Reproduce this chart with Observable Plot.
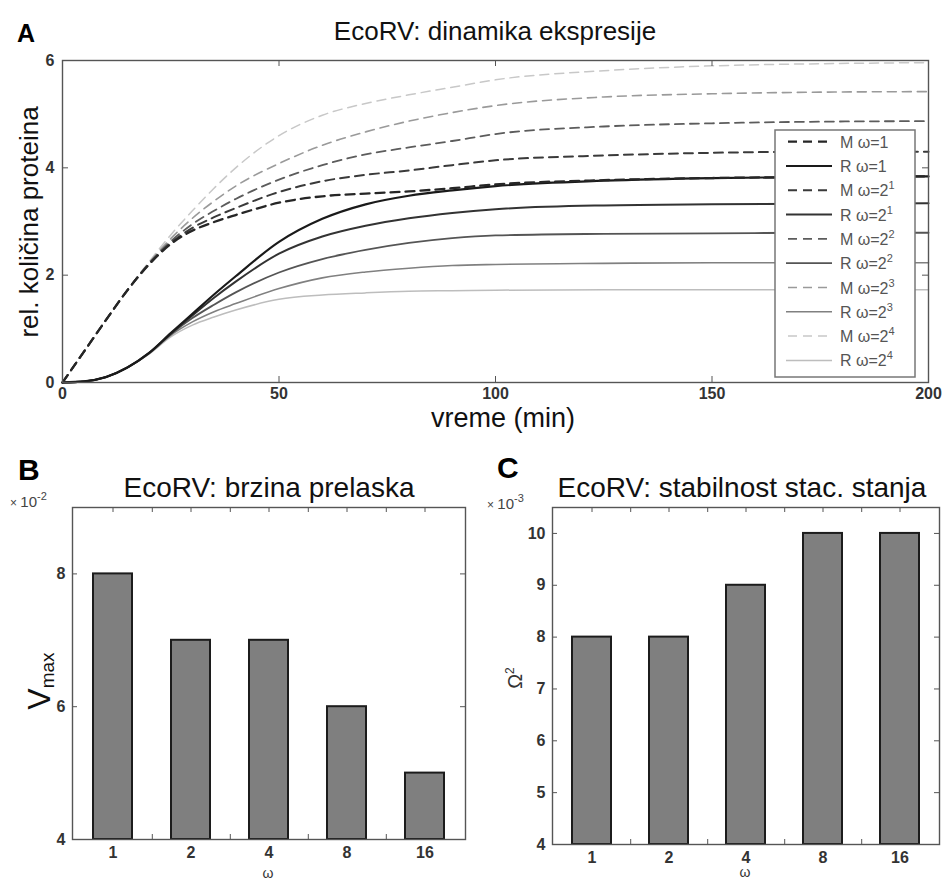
<!DOCTYPE html>
<html><head><meta charset="utf-8">
<script src="https://cdn.jsdelivr.net/npm/d3@7"></script>
<script src="https://cdn.jsdelivr.net/npm/@observablehq/plot@0.6"></script>
<style>
body{margin:0;background:#fff;font-family:"Liberation Sans",Arial,sans-serif;}
#root{position:relative;width:951px;height:881px;overflow:hidden;background:#fff;}
#root > svg{position:absolute;}
</style></head><body><div id="root"></div>
<script>
// ---------- Panel A data ----------
const time = [0,5,10,15,20,25,30,35,40,50,60,70,80,90,100,125,150,175,200];
const mOmega1  = [0,0.58,1.16,1.72,2.20,2.58,2.83,2.99,3.12,3.35,3.47,3.52,3.56,3.62,3.69,3.77,3.81,3.83,3.84];
const mOmega2  = [0,0.58,1.16,1.72,2.21,2.60,2.88,3.08,3.25,3.55,3.75,3.87,3.95,4.05,4.14,4.23,4.28,4.30,4.30];
const mOmega4  = [0,0.58,1.16,1.72,2.22,2.63,2.95,3.20,3.42,3.78,4.05,4.25,4.38,4.50,4.63,4.77,4.83,4.86,4.87];
const mOmega8  = [0,0.58,1.16,1.72,2.23,2.68,3.06,3.38,3.66,4.08,4.42,4.67,4.87,5.03,5.16,5.32,5.38,5.41,5.42];
const mOmega16 = [0,0.58,1.16,1.73,2.25,2.75,3.20,3.62,4.00,4.60,4.98,5.20,5.36,5.50,5.64,5.81,5.90,5.94,5.96];
const rOmega1  = [0,0.02,0.10,0.28,0.55,0.92,1.28,1.64,1.98,2.62,3.05,3.32,3.48,3.58,3.66,3.76,3.81,3.83,3.84];
const rOmega2  = [0,0.02,0.10,0.28,0.55,0.91,1.25,1.58,1.88,2.40,2.72,2.92,3.06,3.16,3.23,3.30,3.32,3.33,3.34];
const rOmega4  = [0,0.02,0.10,0.28,0.55,0.90,1.20,1.45,1.68,2.05,2.30,2.47,2.60,2.69,2.74,2.77,2.78,2.79,2.79];
const rOmega8  = [0,0.02,0.10,0.28,0.54,0.88,1.13,1.32,1.47,1.75,1.95,2.06,2.13,2.18,2.20,2.22,2.23,2.23,2.23];
const rOmega16 = [0,0.02,0.10,0.28,0.53,0.85,1.07,1.22,1.35,1.55,1.63,1.67,1.70,1.71,1.72,1.73,1.73,1.73,1.73];
const xTicksA = [0,50,100,150,200];
const yTicksA = [0,2,4,6];

// ---------- Panel B / C data ----------
const omegaLabels = ["1","2","4","8","16"];
const vmaxValues = [8,7,7,6,5];        // x 10^-2
const omega2Values = [8,8,9,10,10];    // x 10^-3
const yTicksB = [4,6,8];
const yTicksC = [4,5,6,7,8,9,10];

// ---------- series styling ----------
const series = [
  {key:"M1", kind:"M", exp:"", values:mOmega1, color:"#262626", width:2.3},
  {key:"R1", kind:"R", exp:"", values:rOmega1, color:"#1a1a1a", width:2.2},
  {key:"M2", kind:"M", exp:"1", values:mOmega2, color:"#3a3a3a", width:2.0},
  {key:"R2", kind:"R", exp:"1", values:rOmega2, color:"#333333", width:2.0},
  {key:"M4", kind:"M", exp:"2", values:mOmega4, color:"#5c5c5c", width:1.8},
  {key:"R4", kind:"R", exp:"2", values:rOmega4, color:"#555555", width:1.8},
  {key:"M8", kind:"M", exp:"3", values:mOmega8, color:"#9a9a9a", width:1.6},
  {key:"R8", kind:"R", exp:"3", values:rOmega8, color:"#808080", width:1.6},
  {key:"M16", kind:"M", exp:"4", values:mOmega16, color:"#c8c8c8", width:1.5},
  {key:"R16", kind:"R", exp:"4", values:rOmega16, color:"#bdbdbd", width:1.5}
];
const dashM = "9,6";

const FONT = "Liberation Sans, Arial, sans-serif";
const AX = "#555";
const fmt = d3.format("d");
const root = document.getElementById("root");

// ---------- Panel A ----------
{
  const W=951,H=430,ML=62,MR=23,MT=60,MB=48;
  const PW=W-ML-MR, PH=H-MT-MB, T=6;
  const rows = [];
  series.forEach(s => s.values.forEach((v,i)=>rows.push({t:time[i], v, key:s.key})));
  const drawOrder = series.slice().reverse();
  const svg = Plot.plot({
    width:W, height:H, marginLeft:ML, marginRight:MR, marginTop:MT, marginBottom:MB,
    style:{fontFamily:FONT, background:"transparent", overflow:"visible"},
    x:{domain:[0,200], label:null},
    y:{domain:[0,6], label:null},
    marks:[
      ...drawOrder.map(s => Plot.line(rows.filter(r=>r.key===s.key), {
        x:"t", y:"v", stroke:s.color, strokeWidth:s.width,
        strokeDasharray: s.kind==="M" ? dashM : null, curve:"monotone-x"})),
      Plot.tickX(xTicksA, {x:d=>d, insetTop:PH-T, stroke:AX}),
      Plot.tickX(xTicksA, {x:d=>d, insetBottom:PH-T, stroke:AX}),
      Plot.tickY(yTicksA, {y:d=>d, insetRight:PW-T, stroke:AX}),
      Plot.tickY(yTicksA, {y:d=>d, insetLeft:PW-T, stroke:AX}),
      Plot.frame({stroke:AX, strokeWidth:1.4}),
      Plot.axisX(xTicksA, {tickSize:0, tickPadding:5, fontSize:16, fontWeight:"bold", fill:"#333", label:null, tickFormat:fmt}),
      Plot.axisY(yTicksA, {tickSize:0, tickPadding:8, fontSize:16, fontWeight:"bold", fill:"#333", label:null, tickFormat:fmt})
    ]
  });
  svg.style.left="0px"; svg.style.top="0px";
  root.appendChild(svg);
}

// ---------- Bar panels ----------
function barPanel(values, yDomain, yTicks, left, width, ml, mr, mt, mb){
  const H=440, PW=width-ml-mr, PH=H-mt-mb, T=5;
  const step = PW/5;
  const data = omegaLabels.map((w,i)=>({w, v:values[i]}));
  const mids = omegaLabels.slice(0,-1);
  const svg = Plot.plot({
    width, height:H, marginLeft:ml, marginRight:mr, marginTop:mt, marginBottom:mb,
    style:{fontFamily:FONT, background:"transparent", overflow:"visible"},
    x:{type:"band", domain:omegaLabels, paddingInner:0.5, paddingOuter:0.25, label:null},
    y:{domain:yDomain, label:null},
    marks:[
      Plot.tickX(omegaLabels, {x:d=>d, insetBottom:PH-T, stroke:AX}),
      Plot.tickX(mids, {x:d=>d, dx:step/2, insetBottom:PH-T, stroke:AX}),
      Plot.tickX(mids, {x:d=>d, dx:step/2, insetTop:PH-T, stroke:AX}),
      Plot.tickY(yTicks, {y:d=>d, insetRight:PW-T, stroke:AX}),
      Plot.tickY(yTicks, {y:d=>d, insetLeft:PW-T, stroke:AX}),
      Plot.barY(data, {x:"w", y1:yDomain[0], y2:"v", fill:"#7f7f7f", stroke:"#1c1c1c", strokeWidth:2}),
      Plot.frame({stroke:AX, strokeWidth:1.4}),
      Plot.axisX({tickSize:0, tickPadding:7, fontSize:16, fontWeight:"bold", fill:"#333", label:null}),
      Plot.axisY(yTicks, {tickSize:0, tickPadding:7, fontSize:16, fontWeight:"bold", fill:"#333", label:null, tickFormat:fmt})
    ]
  });
  svg.style.left=left+"px"; svg.style.top="440px";
  root.appendChild(svg);
}
barPanel(vmaxValues, [4,9], yTicksB, 0, 480, 72, 15, 67, 41);
barPanel(omega2Values, [4,10.5], yTicksC, 480, 471, 72, 12, 67, 36);

// ---------- overlay text + legend ----------
const ov = d3.select(root).append("svg")
  .attr("width",951).attr("height",881)
  .style("left","0px").style("top","0px")
  .attr("font-family",FONT);

function txt(x,y,s,opts={}){
  const t = ov.append("text").attr("x",x).attr("y",y)
    .attr("font-size",opts.size||16).attr("fill",opts.fill||"#111")
    .attr("font-weight",opts.weight||"normal")
    .attr("text-anchor",opts.anchor||"start");
  if(opts.rotate) t.attr("transform",`rotate(${opts.rotate},${x},${y})`);
  if(s!=null) t.text(s);
  return t;
}
// Panel A texts
txt(17,42,"A",{size:25,weight:"bold",fill:"#000"});
txt(495,40,"EcoRV: dinamika ekspresije",{size:26,anchor:"middle"});
txt(38,222,"rel. količina proteina",{size:26,anchor:"middle",rotate:-90});
txt(503,427,"vreme (min)",{size:27,anchor:"middle"});

// Legend
{
  const x0=775,y0=130,w=140,h=247, dy=24.3, first=141.7;
  ov.append("rect").attr("x",x0).attr("y",y0).attr("width",w).attr("height",h)
    .attr("fill","#fff").attr("stroke","#777").attr("stroke-width",1.5);
  series.forEach((s,i)=>{
    const y = first + i*dy;
    ov.append("line").attr("x1", s.kind==="M"?788:786).attr("x2",832).attr("y1",y).attr("y2",y)
      .attr("stroke",s.color).attr("stroke-width",s.width)
      .attr("stroke-dasharray", s.kind==="M" ? dashM : null);
    const t = txt(840,y+6,null,{size:16,fill:"#555"});
    t.append("tspan").text(s.kind+" \u03c9=" + (s.exp===""?"1":"2"));
    if(s.exp!=="") t.append("tspan").attr("dy",-7).attr("font-size",11).text(s.exp);
  });
}

// Panel B texts
txt(18,480,"B",{size:30,weight:"bold",fill:"#000"});
txt(269,497,"EcoRV: brzina prelaska",{size:28,anchor:"middle"});
{
  const t = txt(10,507,null,{size:15,fill:"#444"});
  t.append("tspan").attr("font-size",12).text("\u00d7 ");
  t.append("tspan").text("10");
  t.append("tspan").attr("dy",-7).attr("font-size",11).text("-2");
}
{
  const t = txt(50,681,null,{size:32,anchor:"middle",rotate:-90,fill:"#111"});
  t.append("tspan").text("V");
  t.append("tspan").attr("dy",4).attr("font-size",19).text("max");
}
txt(268,878,"\u03c9",{size:14,anchor:"middle",fill:"#333"});

// Panel C texts
txt(497,478,"C",{size:30,weight:"bold",fill:"#000"});
txt(742,497,"EcoRV: stabilnost stac. stanja",{size:28,anchor:"middle"});
{
  const t = txt(487,509,null,{size:15,fill:"#444"});
  t.append("tspan").attr("font-size",12).text("\u00d7 ");
  t.append("tspan").text("10");
  t.append("tspan").attr("dy",-7).attr("font-size",11).text("-3");
}
{
  const t = txt(522,678,null,{size:20,anchor:"middle",rotate:-90,fill:"#333"});
  t.append("tspan").text("\u03a9");
  t.append("tspan").attr("dy",-8).attr("font-size",12).text("2");
}
txt(745,877,"\u03c9",{size:14,anchor:"middle",fill:"#333"});
</script>
</body></html>
